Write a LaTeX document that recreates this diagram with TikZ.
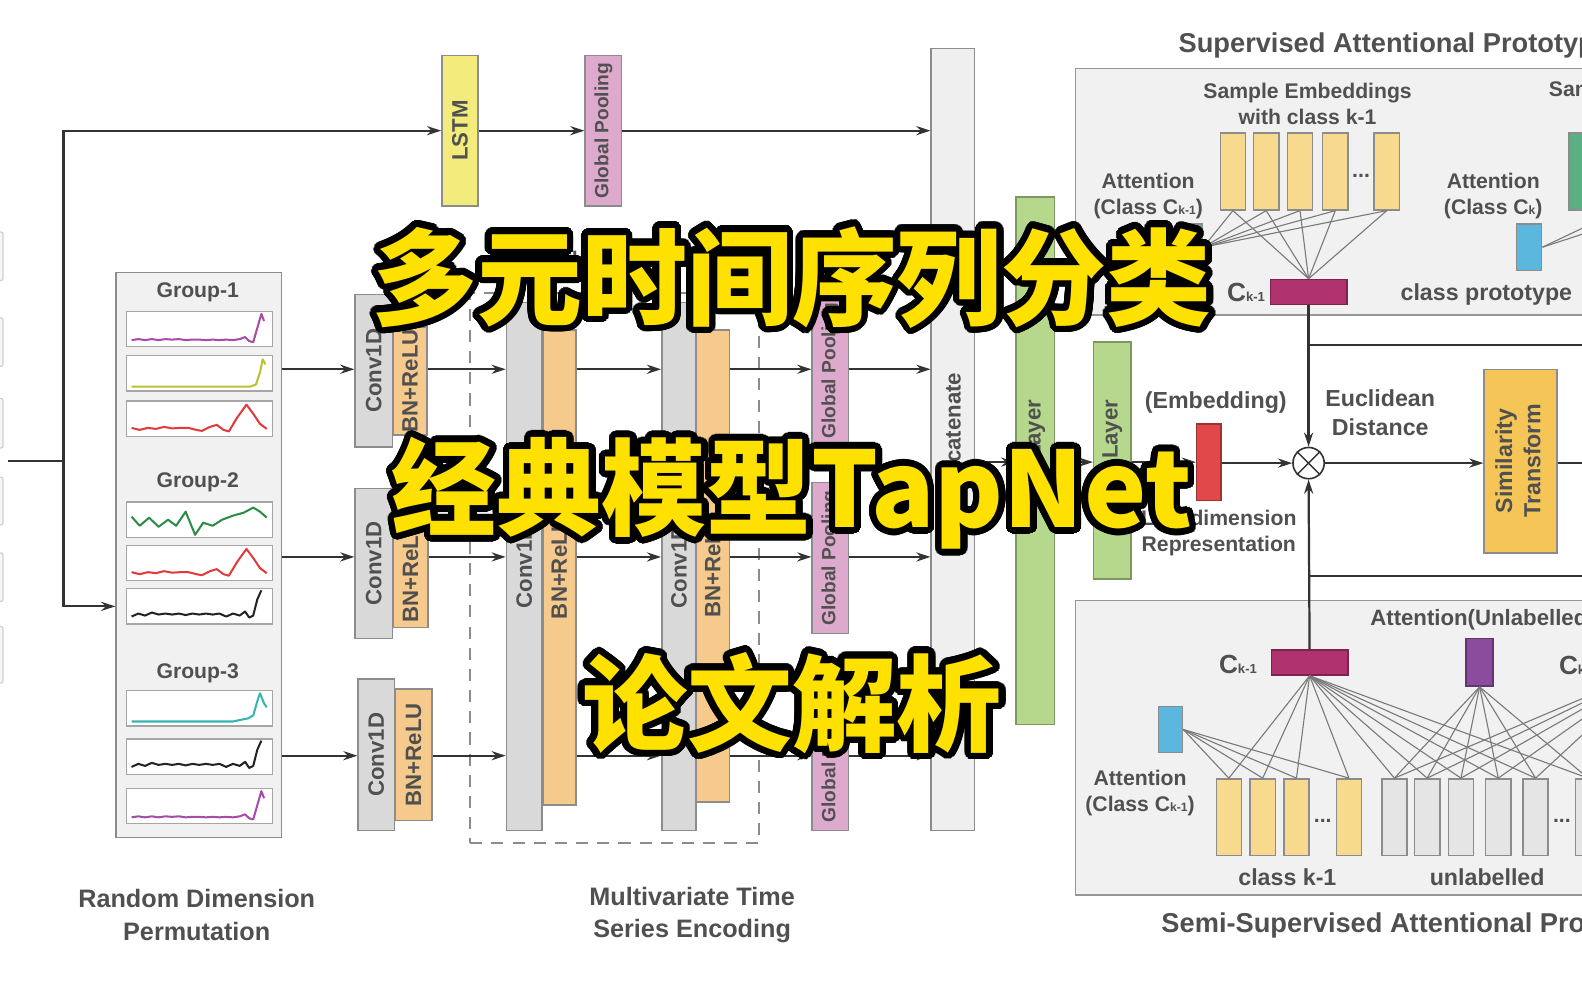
\documentclass[tikz,border=0pt]{standalone}
\usepackage{fontspec}
\setmainfont{Liberation Sans}
\newfontfamily\cjk{Noto Sans CJK SC}
\usepackage{graphicx}
\usepackage{xcolor}
\usepackage{contour}
\usetikzlibrary{arrows.meta}

\contourlength{6.5pt}
\contournumber{40}

\definecolor{txtgray}{HTML}{505050}
\definecolor{edgegray}{HTML}{8C8C8C}
\definecolor{convgray}{HTML}{D9D9D9}
\definecolor{catgray}{HTML}{EFEFEF}
\definecolor{panelgray}{HTML}{F1F1F1}
\definecolor{stubgray}{HTML}{D0D0D0}
\definecolor{bnorange}{HTML}{F6C98C}
\definecolor{poolpink}{HTML}{DDA9CC}
\definecolor{lstmyellow}{HTML}{F3EC7C}
\definecolor{fcgreen}{HTML}{B6D88C}
\definecolor{embyellow}{HTML}{F8DA8E}
\definecolor{unlgray}{HTML}{E5E5E5}
\definecolor{protomag}{HTML}{B0336F}
\definecolor{attblue}{HTML}{5BB7DD}
\definecolor{attpurple}{HTML}{8B4C9E}
\definecolor{embred}{HTML}{E0484A}
\definecolor{simorange}{HTML}{F5C657}
\definecolor{clsgreen}{HTML}{5BAF82}
\definecolor{ttlyellow}{HTML}{FFE100}
\definecolor{arrowdark}{HTML}{333333}
\definecolor{fangray}{HTML}{7A7A7A}
\definecolor{serpurple}{HTML}{A54BA8}
\definecolor{seryellow}{HTML}{B8C232}
\definecolor{serred}{HTML}{E23A3A}
\definecolor{sergreen}{HTML}{2C8C45}
\definecolor{serblack}{HTML}{222222}
\definecolor{serteal}{HTML}{35B5AE}

\tikzset{
  sz/.style 2 args={minimum width=#1pt, minimum height=#2pt},
  fs/.style 2 args={font=\fontsize{#1}{#2}\selectfont\bfseries},
  blk/.style={draw=edgegray, line width=1.5pt, inner sep=0pt, text=txtgray, fs={22}{26}},
  panel/.style={blk, fill=panelgray},
  stub/.style={draw=stubgray, fill=panelgray!60, line width=1.2pt, rounded corners=2pt, minimum width=10pt},
  slot/.style={draw=stubgray!80!black, fill=white, line width=1.2pt, sz={145}{35}},
  arr/.style={draw=arrowdark, line width=2.2pt, -{Stealth[length=14pt,width=9pt]}},
  wire/.style={draw=arrowdark, line width=2.2pt},
  fan/.style={draw=fangray, line width=1.1pt},
  lbl/.style={inner sep=0pt, text=txtgray, align=center, fs={21}{26}},
  big/.style={inner sep=0pt, text=ttlyellow, font=\cjk\bfseries\fontsize{104}{104}\selectfont},
}

% one short time series drawn inside a slot
\newcommand{\series}[3]{%
  \begin{scope}[shift={(#1.south west)}, xshift=6pt, yshift=5pt, x=134pt, y=1pt]
    \draw[#2, line width=2pt, line join=round] plot coordinates {#3};
  \end{scope}}
\newcommand{\sub}[1]{{\fontsize{12}{12}\selectfont #1}}

\begin{document}
\begin{tikzpicture}[x=1pt, y=-1pt]
  \useasboundingbox (0,0) rectangle (1568,980);
  \clip (0,0) rectangle (1568,980);
  \fill[white] (0,0) rectangle (1568,980);

  % input stubs, cut at the left edge
  \foreach \t/\b [count=\i] in {230/278,315/363,395/444,473/520,548/596,621/677}
    \node[stub, minimum height={\b-\t}] (stub\i) at (-2,{(\t+\b)/2}) {};

  \coordinate (in) at (8,457);
  \coordinate (split) at (63,457);
  \coordinate (bot) at (0,601);
  \coordinate (r1) at (0,366);
  \coordinate (r2) at (0,552);
  \coordinate (r3) at (0,749);
  \coordinate (rm) at (0,458);

  % LSTM branch
  \node[blk, fill=lstmyellow, sz={36}{149}] (lstm) at (456,129.5) {\rotatebox{90}{LSTM}};
  \node[blk, fill=poolpink, sz={36}{149}, fs={19}{22}] (gp0) at (598,129.5) {\rotatebox{90}{Global Pooling}};
  \node[blk, fill=catgray, sz={43}{775}] (cat) at (944.5,435.5) {\rotatebox{90}{Concatenate}};

  % Random dimension permutation
  \node[panel, sz={164}{560}] (grp) at (197,550) {};
  \node[lbl] (g1lab) at (196,290) {Group-1};
  \node[lbl] (g2lab) at (196,478) {Group-2};
  \node[lbl] (g3lab) at (196,667) {Group-3};
  \foreach \n/\y in {s1/326,s2/370,s3/415,s4/515,s5/558,s6/601,s7/702,s8/750,s9/799}
    \node[slot] (\n) at (197.5,\y) {};

  \series{s1}{serpurple}{(0,2) (.05,3) (.1,2) (.15,3) (.2,2) (.25,3) (.3,2.5) (.35,3) (.4,2) (.45,2.5) (.5,2.5) (.55,2) (.6,2.5) (.65,2) (.7,2.5) (.75,2) (.8,3) (.84,5) (.87,1) (.9,0) (.93,14) (.96,28) (.98,21)}
  \series{s2}{seryellow}{(0,0) (.3,0) (.6,0) (.88,0) (.92,2) (.95,14) (.97,27) (.99,22)}
  \series{s3}{serred}{(0,4) (.06,2) (.12,4) (.18,3) (.24,5) (.3,3.5) (.36,4) (.42,4) (.48,2) (.52,1) (.58,5) (.63,7) (.68,2) (.72,0.5) (.78,14) (.85,27) (.9,18) (.95,8) (1,3)}
  \series{s4}{sergreen}{(0,16) (.06,7) (.13,15) (.2,6) (.27,13) (.33,7) (.4,21) (.47,-2) (.53,10) (.6,7) (.67,13) (.75,17) (.83,20) (.9,25) (.95,21) (1,15)}
  \series{s5}{serred}{(0,4) (.06,2) (.12,4) (.18,3) (.24,5) (.3,3.5) (.36,4) (.42,4) (.48,2) (.52,1) (.58,5) (.63,7) (.68,2) (.72,0.5) (.78,14) (.85,27) (.9,18) (.95,8) (1,3)}
  \series{s6}{serblack}{(0,3) (.05,6) (.1,4) (.15,7) (.2,5) (.25,6) (.3,5) (.35,6) (.4,4.5) (.45,6) (.5,5) (.55,6) (.6,5) (.65,6) (.7,3) (.75,6) (.8,4) (.84,8) (.87,2) (.9,4) (.93,20) (.96,29)}
  \series{s7}{serteal}{(0,0) (.4,0) (.75,0) (.82,2) (.86,3) (.9,6) (.93,20) (.95,28) (.98,18) (1,14)}
  \series{s8}{serblack}{(0,3) (.05,6) (.1,4) (.15,7) (.2,5) (.25,6) (.3,5) (.35,6) (.4,4.5) (.45,6) (.5,5) (.55,6) (.6,5) (.65,6) (.7,3) (.75,6) (.8,4) (.84,8) (.87,2) (.9,4) (.93,20) (.96,29)}
  \series{s9}{serpurple}{(0,2) (.05,3) (.1,2) (.15,3) (.2,2) (.25,3) (.3,2.5) (.35,3) (.4,2) (.45,2.5) (.5,2.5) (.55,2) (.6,2.5) (.65,2) (.7,2.5) (.75,2) (.8,3) (.84,5) (.87,1) (.9,0) (.93,14) (.96,28) (.98,21)}

  \draw[wire] (in) -- (split);
  \draw[arr] (split) |- (lstm.west);
  \draw[arr] (split) |- (grp.west |- bot);

  % first conv per group
  \node[blk, fill=convgray, sz={37}{151}] (cv1) at (370.5,367.5) {\rotatebox{90}{Conv1D}};
  \node[blk, fill=bnorange, sz={33}{107}] (bn1) at (406.5,377.5) {\rotatebox{90}{BN+ReLU}};
  \node[blk, fill=convgray, sz={37}{149}] (cv2) at (370.5,558.5) {\rotatebox{90}{Conv1D}};
  \node[blk, fill=bnorange, sz={34}{112}] (bn2) at (407,566) {\rotatebox{90}{BN+ReLU}};
  \node[blk, fill=convgray, sz={36}{150}] (cv3) at (373,748) {\rotatebox{90}{Conv1D}};
  \node[blk, fill=bnorange, sz={36}{130}] (bn3) at (410,748) {\rotatebox{90}{BN+ReLU}};

  % shared layers
  \node[draw=edgegray, dashed, dash pattern=on 12pt off 9pt, line width=2pt, sz={286}{546}] (shared) at (609,563) {};
  \node[lbl] (sharedlab) at (537,257) {Shared};
  \node[blk, fill=convgray, sz={35}{523}] (g2) at (519.5,561.5) {\rotatebox{90}{Conv1D}};
  \node[blk, fill=bnorange, sz={33}{471}] (o2) at (554.5,562.5) {\rotatebox{90}{BN+ReLU}};
  \node[blk, fill=convgray, sz={34}{523}] (g3) at (673,561.5) {\rotatebox{90}{Conv1D}};
  \node[blk, fill=bnorange, sz={33}{468}] (o3) at (706.5,561) {\rotatebox{90}{BN+ReLU}};

  % pooling per group
  \node[blk, fill=poolpink, sz={36}{151}, fs={19}{22}] (p1) at (823,367.5) {\rotatebox{90}{Global Pooling}};
  \node[blk, fill=poolpink, sz={36}{150}, fs={19}{22}] (p2) at (823,553) {\rotatebox{90}{Global Pooling}};
  \node[blk, fill=poolpink, sz={36}{150}, fs={19}{22}] (p3) at (823,748) {\rotatebox{90}{Global Pooling}};

  \draw[arr] (lstm.east) -- (gp0.west);
  \draw[arr] (gp0.east) -- (cat.west |- gp0.east);
  \foreach \i in {1,2,3} {
    \draw[arr] (grp.east |- r\i) -- (cv\i.west |- r\i);
    \draw[arr] (bn\i.east |- r\i) -- (g2.west |- r\i);
    \draw[arr] (o2.east |- r\i) -- (g3.west |- r\i);
    \draw[arr] (o3.east |- r\i) -- (p\i.west |- r\i);
    \draw[arr] (p\i.east |- r\i) -- (cat.west |- r\i);
  }

  % fully connected part
  \node[blk, fill=fcgreen, draw=fcgreen!70!black, sz={38}{523}] (fc1) at (1026,456.5) {};
  \node[lbl, fs={22}{26}, rotate=90, anchor=east] (fc1lab) at (1026,396) {Layer};
  \node[blk, fill=fcgreen, draw=fcgreen!70!black, sz={37}{235}] (fc2) at (1102.5,456.5) {};
  \node[lbl, fs={22}{26}, rotate=90, anchor=east] (fc2lab) at (1102.5,396) {Layer};
  \node[blk, fill=embred, draw=embred!70!black, sz={24}{76}] (emb) at (1198,458) {};
  \node[lbl, fs={23}{28}] (emblab) at (1205,399) {(Embedding)};
  \node[lbl] (lowlab) at (1208,528) {Low-dimension\\Representation};
  \draw[arr] (cat.east |- rm) -- (fc1.west |- rm);
  \draw[arr] (fc1.east |- rm) -- (fc2.west |- rm);
  \draw[arr] (fc2.east |- rm) -- (emb.west |- rm);

  % distance and similarity
  \node[circle, draw=arrowdark, line width=1.6pt, fill=white, minimum size=31pt, inner sep=0pt] (ot) at (1297,459) {};
  \draw[arrowdark, line width=1.4pt] (ot.north west) -- (ot.south east) (ot.north east) -- (ot.south west);
  \node[lbl, fs={23}{29}] (eucl) at (1368,409) {Euclidean\\Distance};
  \node[blk, fill=simorange, sz={72}{182}, fs={23}{28}] (sim) at (1507,457)
    {\rotatebox{90}{\begin{tabular}{@{}c@{}}Similarity\\Transform\end{tabular}}};
  \draw[arr] (emb.east |- ot.west) -- (ot.west);
  \draw[arr] (ot.east) -- (sim.west |- ot.east);
  \coordinate (outR) at (1590,459);
  \draw[wire] (sim.east |- outR) -- (outR);

  % supervised attentional prototype
  \node[panel, draw=edgegray!90, sz={534}{244}] (sup) at (1333,190) {};
  \node[lbl, fs={27}{30}, anchor=west] (suptitle) at (1168,45) {Supervised Attentional Prototype};
  \node[lbl] (sampl) at (1296,103) {Sample Embeddings\\with class k-1};
  \node[lbl, anchor=west] (sampr) at (1535,90) {Sample Embeddings};
  \foreach \n/\x in {b1/1222,b2/1255,b3/1288.5,b4/1323.5,b5/1374.5}
    \node[blk, fill=embyellow, sz={25}{76}] (\n) at (\x,170) {};
  \node[lbl] (bdots) at (1349,174) {...};
  \node[blk, fill=clsgreen, sz={25}{76}] (gb1) at (1567.5,170) {};
  \node[blk, fill=clsgreen, sz={25}{76}] (gb2) at (1605,170) {};
  \node[blk, fill=clsgreen, sz={25}{76}] (gb3) at (1640,170) {};
  \node[lbl] (att1) at (1138,194) {Attention\\(Class C\sub{k-1})};
  \node[lbl] (att2) at (1480,194) {Attention\\(Class C\sub{k})};
  \node[blk, fill=attblue, sz={26}{46}] (ab1) at (1179,245) {};
  \node[blk, fill=attblue, sz={25}{46}] (ab2) at (1515.5,245) {};
  \node[blk, fill=protomag, draw=protomag!70!black, sz={76}{25}] (ck1) at (1297,289.5) {};
  \node[lbl, fs={26}{30}, anchor=east] (ck1lab) at (1254,290) {C{\fontsize{13}{13}\selectfont k-1}};
  \node[lbl, fs={23}{28}, anchor=west] (protolab) at (1388,292) {class prototype};
  \foreach \b in {b1,b2,b3,b4,b5} {
    \draw[fan] (\b.south) -- (ck1.north);
    \draw[fan] (\b.south) -- (ab1.east);
  }
  \foreach \g in {gb2,gb3} \draw[fan] (ab2.east) -- (\g.south);

  % links to the distance node
  \coordinate (j1) at (1297,342);
  \coordinate (j1e) at (1590,342);
  \coordinate (j2) at (1297,571);
  \coordinate (j2e) at (1590,571);
  \draw[wire] (j1) -- (j1e);
  \draw[wire] (j2) -- (j2e);

  % semi-supervised attentional prototype
  \node[panel, draw=edgegray!90, sz={534}{292}] (semi) at (1333,741) {};
  \node[lbl, fs={27}{30}, anchor=west] (semititle) at (1151,917) {Semi-Supervised Attentional Prototype};
  \node[lbl, fs={22}{26}, anchor=west] (attu) at (1358,614) {Attention(Unlabelled)};
  \node[blk, fill=protomag, draw=protomag!70!black, sz={76}{25}] (ck2) at (1298,656.5) {};
  \node[lbl, fs={26}{30}, anchor=east] (ck2lab) at (1246,659) {C{\fontsize{13}{13}\selectfont k-1}};
  \node[blk, fill=attpurple, draw=attpurple!70!black, sz={27}{47}] (ap) at (1466.5,656.5) {};
  \node[lbl, fs={26}{30}, anchor=west] (ckrlab) at (1545,660) {C{\fontsize{13}{13}\selectfont k}};
  \coordinate (ckr) at (1640,662);
  \node[blk, fill=attblue, sz={24}{46}] (ab3) at (1160,723) {};
  \node[lbl] (att3) at (1130,786) {Attention\\(Class C\sub{k-1})};
  \foreach \n/\x in {c1/1218,c2/1251.5,c3/1285,c4/1337}
    \node[blk, fill=embyellow, sz={25}{76}] (\n) at (\x,810) {};
  \node[lbl] (cdots) at (1311,814) {...};
  \foreach \n/\x in {u1/1382,u2/1414.5,u3/1448,u4/1485,u5/1522,u6/1574}
    \node[blk, fill=unlgray, sz={25}{76}] (\n) at (\x,810) {};
  \node[lbl] (udots) at (1548,814) {...};
  \node[lbl, fs={23}{28}] (clslab) at (1276,869) {class k-1};
  \node[lbl, fs={23}{28}] (unllab) at (1474,869) {unlabelled};
  \foreach \c in {c1,c2,c3,c4} {
    \draw[fan] (ab3.east) -- (\c.north);
    \draw[fan] (ck2.south) -- (\c.north);
  }
  \foreach \u in {u1,u2,u3,u4,u5,u6} {
    \draw[fan] (ck2.south) -- (\u.north);
    \draw[fan] (ap.south) -- (\u.north);
    \draw[fan] (ckr) -- (\u.north);
  }

  \draw[arr] (ck1.south) -- (ot.north);
  \draw[arr] (ck2.north) -- (ot.south);

  % captions
  \node[lbl, fs={25}{32}] (rdplab) at (195,907) {Random Dimension\\Permutation};
  \node[lbl, fs={25}{32}] (mtslab) at (686,907) {Multivariate Time\\Series Encoding};

  % overlay title
  \node[big] (t1) at (785,278) {\contour{black}{多元时间序列分类}};
  \node[big] (t2) at (785,492) {\contour{black}{经典模型TapNet}};
  \node[big] (t3) at (785,700) {\contour{black}{论文解析}};
\end{tikzpicture}
\end{document}
